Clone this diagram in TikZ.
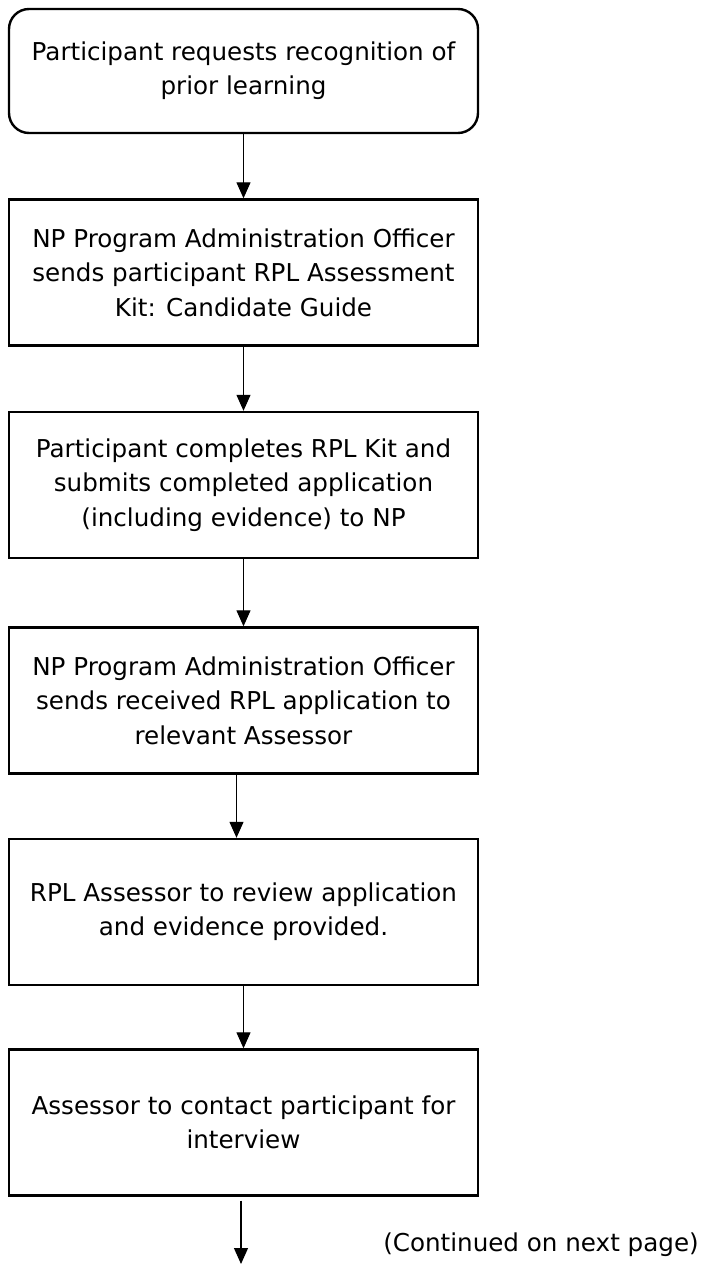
\documentclass[tikz,border=0pt]{standalone}
\usepackage{fontspec}
\setmainfont{DejaVu Sans}
\usetikzlibrary{arrows.meta}

\begin{document}
\begin{tikzpicture}[
            x = 0.5pt, y = -0.5pt, % one unit per pixel, y going down
            > = {Triangle[length=8pt,width=7pt]}, % arrow head style
            line width = 0.6pt, % line style
            flowbox/.style = {shape=rectangle, draw=black, line width=1.2pt,
                minimum width=234.5pt, minimum height=73pt, align=center,
                font=\fontsize{12.3}{17.2}\selectfont,
                execute at begin node=\rule{0pt}{13pt}},
            startbox/.style = {flowbox, rounded corners=10pt, minimum height=62pt}
        ]
\useasboundingbox (0,0) rectangle (709,1264);

\node[startbox] (request) at (243.5,71) {Participant requests recognition of\\prior learning};
\node[flowbox] (sendkit) at (243.5,272.5) {NP Program Administration Officer\\sends participant RPL Assessment\\Kit: Candidate Guide};
\node[flowbox] (complete) at (243.5,485) {Participant completes RPL Kit and\\submits completed application\\(including evidence) to NP};
\node[flowbox] (forward) at (243.5,700.5) {NP Program Administration Officer\\sends received RPL application to\\relevant Assessor};
\node[flowbox] (review) at (243.5,912) {RPL Assessor to review application\\and evidence provided.};
\node[flowbox] (interview) at (243.5,1122.5) {Assessor to contact participant for\\interview};

\coordinate (next) at (241,1264);
\node[anchor=east, font=\fontsize{12.3}{17.2}\selectfont] (continued) at (706,1245) {(Continued on next page)};

 \path [->] (request) edge (sendkit);
 \path [->] (sendkit) edge (complete);
 \path [->] (complete) edge (forward);
 \path [->] ([xshift=-3.5pt]forward.south) edge ([xshift=-3.5pt]review.north);
 \path [->] (review) edge (interview);
 \path [->] ([yshift=-2pt]interview.south -| next) edge (next);
\end{tikzpicture}
\end{document}
